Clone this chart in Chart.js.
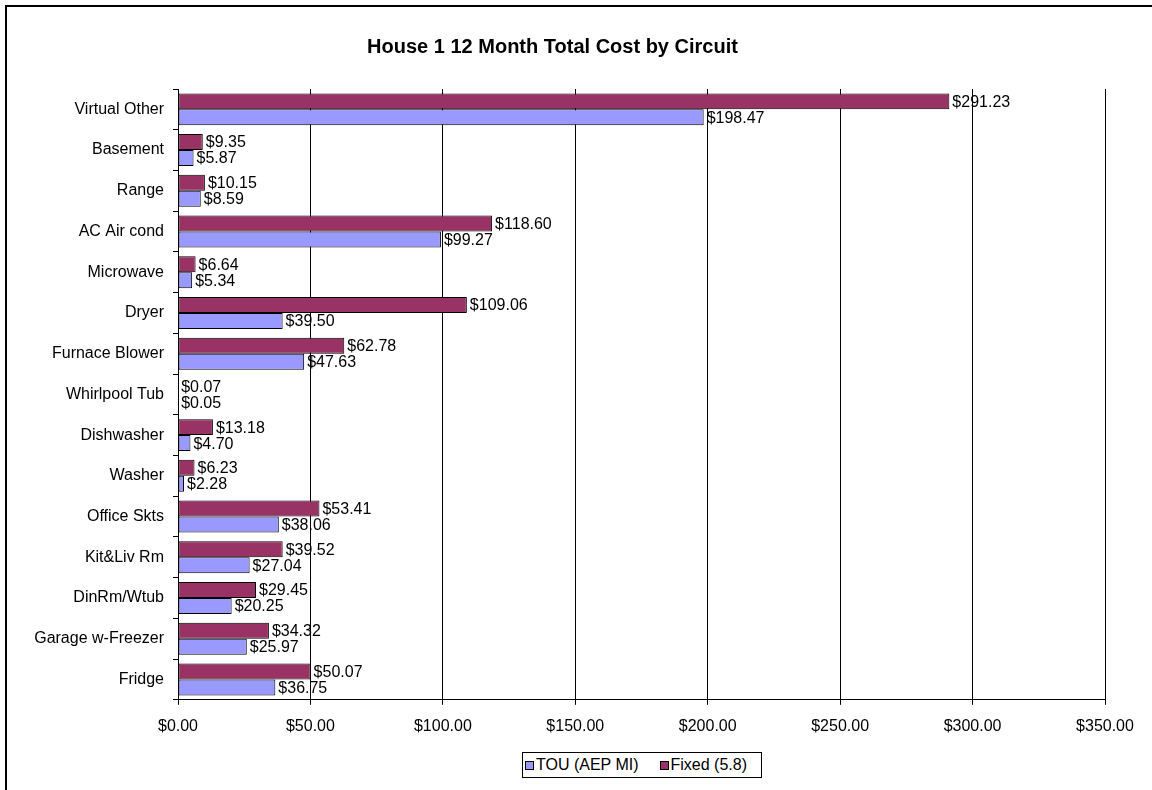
<!DOCTYPE html>
<html>
<head>
<meta charset="utf-8">
<script src="https://cdn.jsdelivr.net/npm/chart.js@4/dist/chart.umd.min.js"></script>
<style>
  html, body { margin: 0; padding: 0; background: #fff; overflow: hidden; }
  #wrap { position: relative; width: 1152px; height: 790px; }
  #frame { position: absolute; left: 5px; top: 5px; width: 1200px; height: 840px; border: 2px solid #000; box-sizing: border-box; pointer-events: none; }
  canvas { position: absolute; left: 0; top: 0; }
  #legend { position: absolute; left: 522px; top: 752px; width: 240px; height: 26px; box-sizing: border-box; border: 1px solid #000; background: #fff;
            font-family: "Liberation Sans", Arial, sans-serif; font-size: 16px; color: #000; display: flex; align-items: center; white-space: nowrap; }
  #legend .sw { display: inline-block; width: 9px; height: 9px; box-sizing: border-box; border: 1px solid #000; margin-right: 2px; }
  #legend .item { display: inline-flex; align-items: center; }
</style>
</head>
<body>
<div id="wrap">
  <canvas id="c" width="1152" height="790"></canvas>
  <div id="frame"></div>
  <div id="legend"></div>
</div>
<script>
const categories = ["Virtual Other", "Basement", "Range", "AC Air cond", "Microwave", "Dryer", "Furnace Blower", "Whirlpool Tub", "Dishwasher", "Washer", "Office Skts", "Kit&Liv Rm", "DinRm/Wtub", "Garage w-Freezer", "Fridge"];
const touValues = [198.47, 5.87, 8.59, 99.27, 5.34, 39.50, 47.63, 0.05, 4.70, 2.28, 38.06, 27.04, 20.25, 25.97, 36.75];
const fixedValues = [291.23, 9.35, 10.15, 118.60, 6.64, 109.06, 62.78, 0.07, 13.18, 6.23, 53.41, 39.52, 29.45, 34.32, 50.07];
const seriesNames = ["TOU (AEP MI)", "Fixed (5.8)"];
const seriesColors = ["#9999FF", "#993366"];
const xTicks = [0, 50, 100, 150, 200, 250, 300, 350];

const FONT = "'Liberation Sans', Arial, sans-serif";
const money = v => "$" + Number(v).toFixed(2);

const labelPlugin = {
  id: "barLabels",
  afterDatasetsDraw(chart) {
    const ctx = chart.ctx;
    ctx.save();
    ctx.font = "16px " + FONT;
    ctx.fillStyle = "#000";
    ctx.textAlign = "left";
    ctx.textBaseline = "middle";
    chart.data.datasets.forEach((ds, di) => {
      const meta = chart.getDatasetMeta(di);
      meta.data.forEach((el, i) => {
        ctx.fillText(money(ds.data[i]), el.x + 3, el.y + 1);
      });
    });
    ctx.restore();
  }
};

new Chart(document.getElementById("c"), {
  type: "bar",
  data: {
    labels: categories,
    datasets: [
      { label: seriesNames[1], data: fixedValues, backgroundColor: seriesColors[1], borderColor: "#000", borderWidth: 1, borderSkipped: false },
      { label: seriesNames[0], data: touValues, backgroundColor: seriesColors[0], borderColor: "#000", borderWidth: 1, borderSkipped: false }
    ]
  },
  options: {
    indexAxis: "y",
    responsive: false,
    animation: false,
    devicePixelRatio: 1,
    categoryPercentage: 0.785,
    barPercentage: 1.0,
    layout: { padding: { left: 0, right: 47, top: 0, bottom: 42 } },
    plugins: {
      legend: { display: false },
      tooltip: { enabled: false },
      title: {
        display: true,
        text: "House 1 12 Month Total Cost by Circuit",
        color: "#000",
        font: { family: FONT, size: 20, weight: "bold" },
        padding: { top: 35, bottom: 30 }
      }
    },
    scales: {
      x: {
        min: 0, max: 350,
        afterBuildTicks: s => { s.ticks = xTicks.map(v => ({ value: v })); },
        ticks: { callback: v => money(v), color: "#000", font: { family: FONT, size: 16 }, padding: 12, maxRotation: 0 },
        grid: { color: "#000", lineWidth: 1, tickLength: 5, drawTicks: true },
        border: { color: "#000", width: 1 }
      },
      y: {
        afterFit: s => { s.width = 178; },
        ticks: { color: "#000", font: { family: FONT, size: 16 }, padding: 9 },
        grid: { drawOnChartArea: false, offset: true, color: "#000", tickLength: 5 },
        border: { color: "#000", width: 1 }
      }
    }
  },
  plugins: [labelPlugin]
});

// HTML legend built from series arrays
const leg = document.getElementById("legend");
[0, 1].forEach(i => {
  const item = document.createElement("span");
  item.className = "item";
  item.style.marginLeft = i === 0 ? "2px" : "21px";
  const sw = document.createElement("span");
  sw.className = "sw";
  sw.style.background = seriesColors[i];
  const t = document.createElement("span");
  t.textContent = seriesNames[i];
  item.appendChild(sw); item.appendChild(t);
  leg.appendChild(item);
});
</script>
</body>
</html>
